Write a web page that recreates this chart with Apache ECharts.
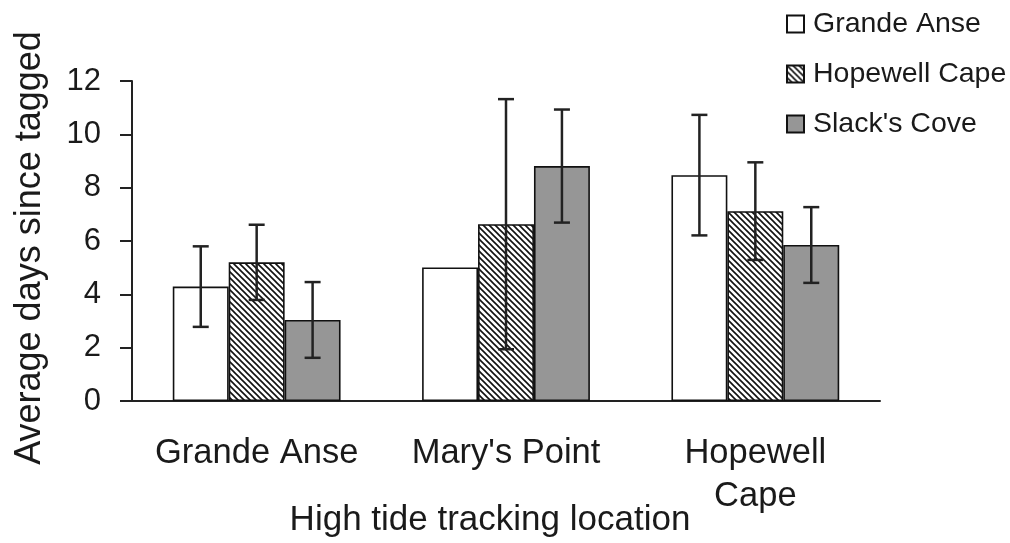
<!DOCTYPE html>
<html>
<head>
<meta charset="utf-8">
<script src="https://cdn.jsdelivr.net/npm/echarts@6/dist/echarts.min.js"></script>
<style>html,body{margin:0;padding:0;background:#fff;}#c{width:1010px;height:543px;}</style>
</head>
<body>
<div id="c"></div>
<script>
var categories = ['Grande Anse', "Mary's Point", 'Hopewell\nCape'];
var seriesNames = ['Grande Anse', 'Hopewell Cape', "Slack's Cove"];
var grandeAnse = [4.29, 5.01, 8.47];
var hopewellCape = [5.2, 6.63, 7.12];
var slacksCove = [3.04, 8.81, 5.85];
var errGrandeAnse = [1.51, null, 2.26];
var errHopewellCape = [1.41, 4.69, 1.83];
var errSlacksCove = [1.42, 2.12, 1.42];
var yTicks = [0, 2, 4, 6, 8, 10, 12];

var FONT = 'Liberation Sans, Arial, Helvetica, sans-serif';
var TXT = '#1a1a1a';
var CAT_GAP = 0.327;

// hatch pattern
var pc = document.createElement('canvas');
pc.width = 6; pc.height = 6;
var g = pc.getContext('2d');
g.fillStyle = '#fff'; g.fillRect(0, 0, 6, 6);
g.strokeStyle = '#111'; g.lineWidth = 1.6;
g.beginPath();
g.moveTo(-1, -1); g.lineTo(7, 7);
g.moveTo(-1, 5); g.lineTo(1, 7);
g.moveTo(5, -1); g.lineTo(7, 1);
g.stroke();

var values = [grandeAnse, hopewellCape, slacksCove];
var errs = [errGrandeAnse, errHopewellCape, errSlacksCove];
var fills = ['#ffffff', {image: pc, repeat: 'repeat'}, '#969696'];

var series = [];
values.forEach(function (vals, k) {
  series.push({
    name: seriesNames[k],
    type: 'bar',
    data: vals,
    barGap: '0%',
    barCategoryGap: (CAT_GAP * 100) + '%',
    itemStyle: {color: fills[k], borderColor: '#111', borderWidth: 1.6},
    z: 2
  });
});

values.forEach(function (vals, k) {
  var d = [];
  vals.forEach(function (v, i) {
    if (errs[k][i] != null) d.push([i, v - errs[k][i], v + errs[k][i]]);
  });
  series.push({
    type: 'custom',
    name: 'err' + k,
    data: d,
    z: 5,
    silent: true,
    encode: {x: 0, y: [1, 2]},
    renderItem: function (params, api) {
      var i = api.value(0);
      var lo = api.coord([i, api.value(1)]);
      var hi = api.coord([i, api.value(2)]);
      var band = api.size([1, 0])[0];
      var remained = band * (1 - CAT_GAP);
      var bw = remained / 3;
      var x = lo[0] - remained / 2 + bw * (k + 0.5);
      var cap = 8;
      var st = {stroke: '#222', lineWidth: 2.5};
      return {
        type: 'group',
        children: [
          {type: 'line', shape: {x1: x, y1: lo[1], x2: x, y2: hi[1]}, style: st},
          {type: 'line', shape: {x1: x - cap, y1: lo[1], x2: x + cap, y2: lo[1]}, style: st},
          {type: 'line', shape: {x1: x - cap, y1: hi[1], x2: x + cap, y2: hi[1]}, style: st}
        ]
      };
    }
  });
});

var chart = echarts.init(document.getElementById('c'), null, {renderer: 'canvas'});
chart.setOption({
  animation: false,
  backgroundColor: '#fff',
  grid: {left: 132, right: 130, top: 81, bottom: 142, containLabel: false, outerBoundsMode: 'none'},
  legend: {
    data: seriesNames,
    orient: 'vertical',
    left: 786,
    top: 9,
    padding: 0,
    icon: 'rect',
    itemWidth: 17,
    itemHeight: 17,
    itemGap: 20,
    textStyle: {fontFamily: FONT, fontSize: 28.5, color: TXT, lineHeight: 30, padding: [0, 0, 0, 4]}
  },
  xAxis: {
    type: 'category',
    data: categories,
    name: 'High tide tracking location',
    nameLocation: 'middle',
    nameGap: 102,
    nameMoveOverlap: false,
    nameTextStyle: {fontFamily: FONT, fontSize: 35, color: TXT, padding: [0, 32, 0, 0]},
    axisLine: {lineStyle: {color: '#222', width: 2}},
    axisTick: {show: false},
    axisLabel: {fontFamily: FONT, fontSize: 34.5, color: TXT, margin: 31, lineHeight: 43, interval: 0}
  },
  yAxis: {
    type: 'value',
    min: 0,
    max: 12,
    interval: 2,
    name: 'Average days since tagged',
    nameLocation: 'middle',
    nameGap: 84,
    nameMoveOverlap: false,
    nameTextStyle: {fontFamily: FONT, fontSize: 36, color: TXT, padding: [0, 14, 0, 0]},
    splitLine: {show: false},
    axisLine: {show: true, lineStyle: {color: '#222', width: 2}},
    axisTick: {show: true, length: 12, lineStyle: {color: '#222', width: 2}},
    axisLabel: {fontFamily: FONT, fontSize: 31, color: TXT, margin: 31,
      formatter: function (v) { return yTicks.indexOf(v) >= 0 ? String(v) : ''; }}
  },
  series: series
});
</script>
</body>
</html>
